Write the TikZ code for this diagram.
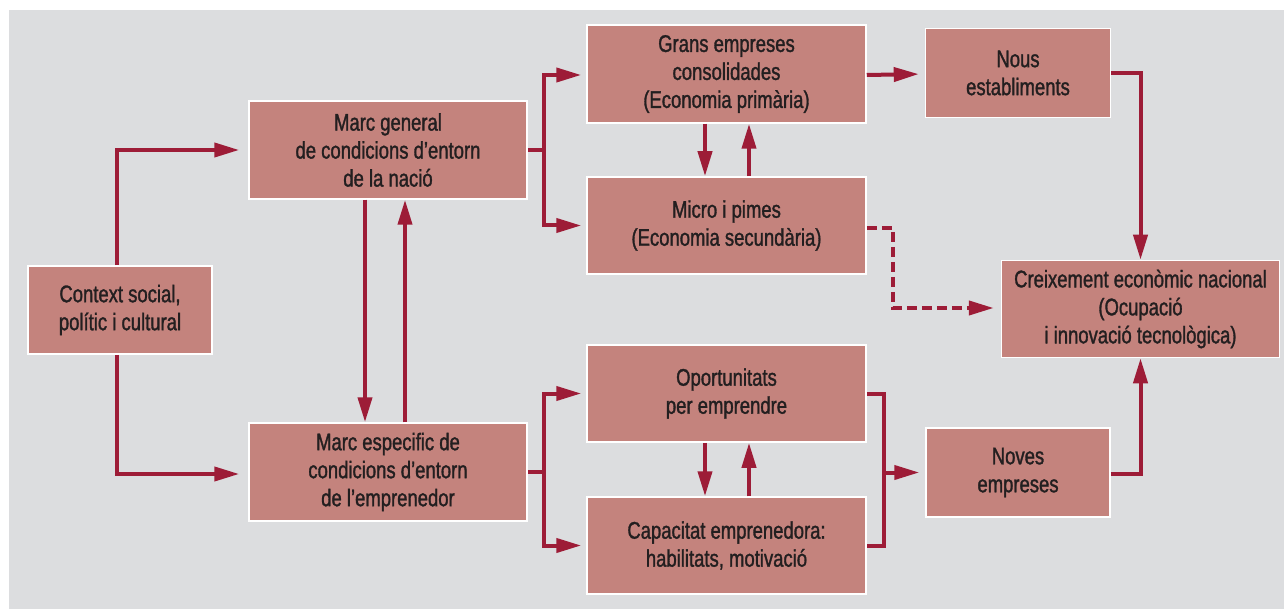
\documentclass[tikz,border=0pt]{standalone}
\usepackage{fontspec}
\setmainfont[FakeStretch=0.77,FakeBold=1.3]{Liberation Sans}
\usetikzlibrary{arrows.meta,calc}
\definecolor{bg}{HTML}{DCDDDF}
\definecolor{boxfill}{HTML}{C4837D}
\definecolor{arrc}{HTML}{9D1C37}
\definecolor{txt}{HTML}{231F20}
\tikzset{
  box/.style={draw=white,line width=1.5pt,fill=boxfill,inner sep=0pt,align=center,
    text=txt,font=\fontsize{24pt}{28pt}\selectfont},
  lnk/.style={draw=arrc,line width=4pt,line join=miter},
  arr/.style={lnk,-{Triangle[length=25pt,width=14pt]}},
  darr/.style={arr,dash pattern=on 10pt off 5pt}
}
\begin{document}
\begin{tikzpicture}[x=1pt,y=-1pt]
\useasboundingbox (0,0) rectangle (1284,609);
\fill[white] (0,0) rectangle (1284,609);
\fill[bg] (9,10) rectangle (1284,609);

\node[box,minimum width=184pt,minimum height=88pt] (ctx) at (120,310) {Context social,\\polític i cultural};
\node[box,minimum width=278pt,minimum height=98pt] (mg) at (388,150) {Marc general\\de condicions d’entorn\\de la nació};
\node[box,minimum width=278pt,minimum height=98pt] (me) at (388,472) {Marc especific de\\condicions d’entorn\\de l’emprenedor};
\node[box,minimum width=279pt,minimum height=98pt] (ge) at (726.5,74) {Grans empreses\\consolidades\\(Economia primària)};
\node[box,minimum width=279pt,minimum height=97pt] (mp) at (726.5,225.5) {Micro i pimes\\(Economia secundària)};
\node[box,minimum width=279pt,minimum height=97pt] (op) at (726.5,393.5) {Oportunitats\\per emprendre};
\node[box,minimum width=279pt,minimum height=97pt] (ca) at (726.5,545.5) {Capacitat emprenedora:\\habilitats, motivació};
\node[box,minimum width=185pt,minimum height=89pt] (ne) at (1018,73) {Nous\\establiments};
\node[box,minimum width=184pt,minimum height=89pt] (nv) at (1018,472.5) {Noves\\empreses};
\node[box,minimum width=278pt,minimum height=97pt] (cr) at (1140.5,309) {Creixement econòmic nacional\\(Ocupació\\i innovació tecnològica)};

% context to frameworks
\draw[arr,shorten >=9pt] ([xshift=-3pt]ctx.north) |- (mg.west);
\draw[arr,shorten >=9pt] ([xshift=-3pt]ctx.south) |- ([yshift=-2pt]me.west);
% between frameworks
\draw[arr] ([xshift=-23pt]mg.south) -- ([xshift=-23pt]me.north);
\draw[arr] ([xshift=17pt]me.north) -- ([xshift=17pt]mg.south);
% upper bracket
\path ([xshift=16pt]mg.east) coordinate (b1);
\draw[lnk] (mg.east) -- (b1);
\draw[arr,shorten >=5pt] (b1) |- ([yshift=-1pt]ge.west);
\draw[arr,shorten >=5pt] (b1) |- (mp.west);
% lower bracket
\path ([xshift=16pt]me.east) coordinate (b2);
\draw[lnk] (me.east) -- (b2);
\draw[arr,shorten >=5pt] (b2) |- (op.west);
\draw[arr,shorten >=5pt] (b2) |- (ca.west);
% vertical pairs
\draw[arr] ([xshift=-21.5pt]ge.south) -- ([xshift=-21.5pt]mp.north);
\draw[arr] ([xshift=22.5pt]mp.north) -- ([xshift=22.5pt]ge.south);
\draw[arr] ([xshift=-21.5pt]op.south) -- ([xshift=-21.5pt]ca.north);
\draw[arr] ([xshift=22.5pt]ca.north) -- ([xshift=22.5pt]op.south);
% to Nous establiments
\draw[arr,shorten >=6pt] ([yshift=-1pt]ge.east) -- ([yshift=-1pt]ne.west);
% right bracket to Noves empreses
\path ([xshift=17pt]op.east) coordinate (b3);
\draw[lnk] (op.east) -- (b3) |- (ca.east);
\draw[arr,shorten >=6pt] (b3 |- nv.west) -- (nv.west);
% into Creixement
\draw[arr] (ne.east) -| (cr.north);
\draw[arr] ([yshift=-1pt]nv.east) -| (cr.south);
% dashed
\path ([yshift=-2.5pt]mp.east) coordinate (d0);
\draw[darr,shorten >=7pt] (d0) -- ++(26pt,0) |- ([yshift=1pt]cr.west);
\end{tikzpicture}
\end{document}
